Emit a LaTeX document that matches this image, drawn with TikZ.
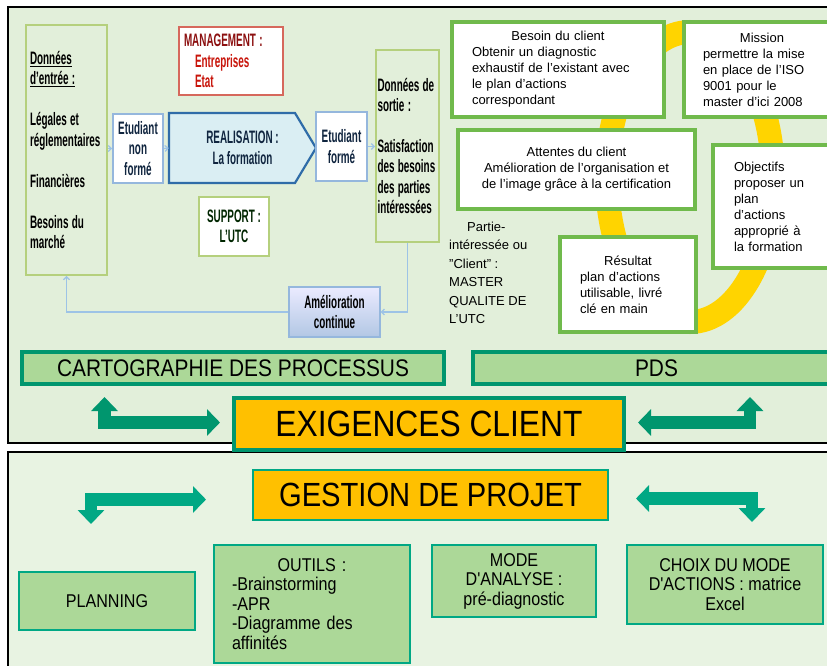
\documentclass[tikz,border=0pt]{standalone}
\usepackage{fontspec}
\setmainfont{Liberation Sans}
\newfontfamily\narrowfont[FakeStretch=0.87]{Liberation Sans}
\usetikzlibrary{calc,arrows.meta}
\newcommand\sq[1]{\scalebox{0.55}[1]{#1}}

\definecolor{panelTop}{RGB}{226,239,218}
\definecolor{panelLow}{RGB}{232,243,226}
\definecolor{oliveLine}{RGB}{181,208,125}
\definecolor{paleBlue}{RGB}{149,183,221}
\definecolor{deepBlue}{RGB}{47,108,168}
\definecolor{iceBlue}{RGB}{218,238,243}
\definecolor{navyText}{RGB}{16,37,63}
\definecolor{mgmtRed}{RGB}{214,104,92}
\definecolor{wineText}{RGB}{140,16,16}
\definecolor{redText}{RGB}{200,20,10}
\definecolor{ringYellow}{RGB}{255,212,0}
\definecolor{ringGreen}{RGB}{112,186,76}
\definecolor{tealLine}{RGB}{0,150,110}
\definecolor{tealLight}{RGB}{0,168,132}
\definecolor{leafGreen}{RGB}{172,216,152}
\definecolor{amber}{RGB}{255,192,0}
\definecolor{loopBlue}{RGB}{157,195,230}

\begin{document}
\begin{tikzpicture}[x=1pt,y=-1pt,
    panel/.style={draw=black,line width=1.5pt},
    cond/.style={font=\bfseries\fontsize{18}{20.5}\selectfont},
    databox/.style={cond,rectangle,draw=oliveLine,line width=1.8pt,fill=panelTop,inner sep=4pt,align=left},
    studbox/.style={cond,rectangle,draw=paleBlue,line width=1.8pt,fill=white,text=navyText,align=center},
    ringbox/.style={rectangle,draw=ringGreen,line width=4pt,fill=white,font=\fontsize{13}{16}\selectfont},
    bandbox/.style={rectangle,draw=tealLine,line width=4pt,fill=leafGreen,font=\narrowfont\fontsize{24}{28}\selectfont},
    keybox/.style={rectangle,draw=tealLine,line width=4pt,fill=amber},
    toolbox/.style={rectangle,draw=tealLight,line width=2pt,fill=leafGreen,align=center,
      font=\narrowfont\fontsize{18.5}{19.5}\selectfont},
    flow/.style={draw=loopBlue,line width=1.2pt,-{Straight Barb[length=3pt,width=6pt]}},
    bigarrow/.style={line width=12.5pt,line join=miter,
      {Triangle[length=14pt,width=26pt]}-{Triangle[length=13pt,width=26pt]}}
    ]

  \useasboundingbox (0,0) rectangle (827,665);

  % panels
  \draw[panel,fill=panelTop] (8,7) rectangle (840,443);
  \draw[panel,fill=panelLow] (8,452) rectangle (840,672);

  % process map
  \node(entree) [databox,minimum width=81,minimum height=250,text width=73pt] at (66.5,150)
    {\sq{\underline{Données}}\\\sq{\underline{d'entrée :}}\\[20.5pt]\sq{Légales et}\\\sq{réglementaires}\\[20.5pt]%
     \sq{Financières}\\[20.5pt]\sq{Besoins du}\\\sq{marché}};
  \node(mgmt) [cond,rectangle,draw=mgmtRed,line width=1.8pt,fill=white,text=redText,inner sep=5pt,
    minimum width=104,minimum height=68,text width=94pt,align=left] at (231,61)
    {\sq{\color{wineText}MANAGEMENT :}\\\hspace*{11pt}\sq{Entreprises}\\\hspace*{11pt}\sq{Etat}};
  \node(nonforme) [studbox,minimum width=50,minimum height=69] at (138,148.5) {\sq{Etudiant}\\\sq{non}\\\sq{formé}};
  \filldraw[draw=deepBlue,fill=iceBlue,line width=2.2pt,line join=miter]
    (169,113) -- (295,113) -- (316,148) -- (295,183) -- (169,183) -- cycle;
  \node(realis) [cond,text=navyText,align=center,minimum width=147,minimum height=70,inner sep=0pt]
    at (242.5,148) {\sq{REALISATION :}\\\sq{La formation}};
  \node(forme) [studbox,minimum width=51,minimum height=69] at (341.5,146.5) {\sq{Etudiant}\\\sq{formé}};
  \node(sortie) [databox,minimum width=63,minimum height=192,text width=60pt,inner sep=1.5pt] at (407.5,146)
    {\sq{Données de}\\\sq{sortie :}\\[20pt]\sq{Satisfaction}\\\sq{des besoins}\\\sq{des parties}\\\sq{intéressées}};
  \node(support) [cond,rectangle,draw=oliveLine,line width=1.8pt,fill=white,text={black!85!green},
    align=center,minimum width=70,minimum height=59] at (234,226.5) {\sq{SUPPORT :}\\\sq{L'UTC}};
  \node(amelio) [cond,rectangle,draw=paleBlue,line width=1.2pt,top color=blue!8!white,
    bottom color={rgb,255:red,178;green,199;blue,228},align=center,minimum width=91,minimum height=50]
    at (334.5,312) {\sq{Amélioration}\\\sq{continue}};

  \draw[flow] (entree.east |- nonforme.west) -- (nonforme.west);
  \draw[flow] (nonforme.east) -- (realis.west);
  \draw[flow] (forme.east) -- (forme.east -| sortie.west);
  \draw[flow] (sortie.south) |- (amelio.east);
  \draw[flow] (amelio.west) -| (entree.south);

  % client side
  \draw[ringYellow,line width=24pt] (690,177) ellipse [x radius=83pt,y radius=145pt];

  \node(besoin) [ringbox,minimum width=212,minimum height=95,text width=172pt,align=left] at (558,69.5)
    {\makebox[172pt]{Besoin du client}\\Obtenir un diagnostic\\exhaustif de l'existant avec\\le plan d'actions\\correspondant};
  \node(mission) [ringbox,minimum width=156,minimum height=95,text width=118pt,align=left] at (762,69.5)
    {\makebox[118pt]{Mission}\\permettre la mise\\en place de l'ISO\\9001 pour le\\master d'ici 2008};
  \node(attentes) [ringbox,minimum width=237,minimum height=79,align=center] at (576.5,169.5)
    {Attentes du client\\Amélioration de l'organisation et\\de l'image grâce à la certification};
  \node(objectifs) [ringbox,minimum width=127,minimum height=123,text width=85pt,align=left] at (776.5,206.5)
    {Objectifs\\proposer un\\plan\\d'actions\\approprié à\\la formation};
  \node(resultat) [ringbox,minimum width=136,minimum height=95,text width=96pt,align=left] at (628,284.5)
    {\makebox[96pt]{Résultat}\\plan d'actions\\utilisable, livré\\clé en main};
  \node(partie) [anchor=west,align=left,inner sep=0pt,font=\fontsize{13}{18.5}\selectfont] at (449,273)
    {\hspace*{18pt}Partie-\\intéressée ou\\"Client" :\\MASTER\\QUALITE DE\\L'UTC};

  % requirement bands
  \node(carto) [bandbox,minimum width=422,minimum height=32] at (233,368) {CARTOGRAPHIE DES PROCESSUS};
  \node(pds) [bandbox,minimum width=367,minimum height=32] at (656.5,368) {PDS};
  \node(exig) [keybox,minimum width=390,minimum height=52,font=\narrowfont\fontsize{36.5}{40}\selectfont]
    at (429,424) {EXIGENCES CLIENT};

  \draw[bigarrow,tealLine] ($(carto.south west)+(84.5,11)$) |- ($(exig.west)+(-12,-1.5)$);
  \draw[bigarrow,tealLine] ($(pds.south west)+(279,11)$) |- ($(exig.east)+(12,-1.5)$);

  % project management
  \node(gestion) [keybox,draw=tealLight,line width=2pt,minimum width=355,minimum height=50,
    font=\narrowfont\fontsize{33.5}{38}\selectfont] at (430.5,495) {GESTION DE PROJET};
  \node(planning) [toolbox,minimum width=176,minimum height=58] at (107,601) {PLANNING};
  \node(outils) [toolbox,minimum width=196,minimum height=118,text width=160pt,align=left] at (312,604)
    {\makebox[160pt]{OUTILS :}\\-Brainstorming\\-APR\\-Diagramme des\\affinités};
  \node(mode) [toolbox,minimum width=164,minimum height=72] at (514,581) {MODE\\D'ANALYSE :\\pré-diagnostic};
  \node(choix) [toolbox,minimum width=196,minimum height=79] at (725,584.5)
    {CHOIX DU MODE\\D'ACTIONS : matrice\\Excel};

  \draw[bigarrow,tealLight] ($(planning.north)+(-16,-47)$) |- ($(gestion.west)+(-46,4.5)$);
  \draw[bigarrow,tealLight] ($(choix.north)+(27,-22)$) |- ($(gestion.east)+(27,3.5)$);

\end{tikzpicture}
\end{document}
